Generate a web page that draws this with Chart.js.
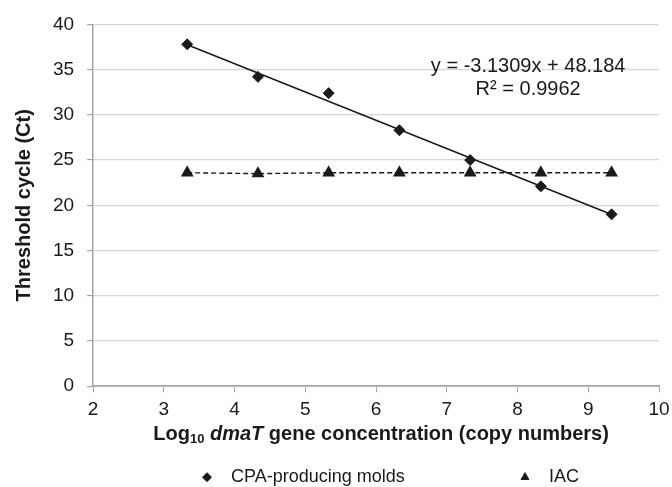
<!DOCTYPE html>
<html>
<head>
<meta charset="utf-8">
<script src="https://cdn.jsdelivr.net/npm/chart.js@4"></script>
<style>
  html, body { margin: 0; padding: 0; background: #fff; }
  #wrap { width: 672px; height: 487px; }
</style>
</head>
<body>
<div id="wrap"><canvas id="chart" width="672" height="487"></canvas></div>
<script>
// valeurs
const logConc = [3.33, 4.33, 5.33, 6.33, 7.33, 8.33, 9.33];
const ctCPA = [37.8, 34.2, 32.4, 28.3, 25.0, 22.1, 19.0];
const ctIAC = [23.6, 23.5, 23.6, 23.6, 23.6, 23.6, 23.6];
const xTicks = [2, 3, 4, 5, 6, 7, 8, 9, 10];
const yTicks = [0, 5, 10, 15, 20, 25, 30, 35, 40];
const slope = -3.1309;
const intercept = 48.184;
const eqLines = ['y = -3.1309x + 48.184', 'R\u00b2 = 0.9962'];
const seriesNames = ['CPA-producing molds', 'IAC'];

const FONT = "'Liberation Sans', Arial, sans-serif";
const INK = '#1a1a1a';
const AXIS = '#a3a3a3';

// droite de tendance entre le premier et le dernier point
const trendX = [logConc[0], logConc[logConc.length - 1]];
const trend = trendX.map(x => ({ x: x, y: slope * x + intercept }));

const toPts = (xs, ys) => xs.map((x, i) => ({ x: x, y: ys[i] }));

// titre de l'axe x avec indice et italique, plus légende et équation
const extras = {
  id: 'extras',
  afterDraw(chart) {
    const ctx = chart.ctx;
    const area = chart.chartArea;
    const xs = chart.scales.x, ys = chart.scales.y;
    ctx.save();
    ctx.fillStyle = INK;
    ctx.textBaseline = 'middle';

    // équation
    ctx.font = '20px ' + FONT;
    ctx.textAlign = 'center';
    const ex = xs.getPixelForValue(8.15);
    ctx.fillText(eqLines[0], ex, ys.getPixelForValue(35.3));
    ctx.fillText(eqLines[1], ex, ys.getPixelForValue(32.8));

    // titre x
    const parts = [
      { t: 'Log', f: 'bold 20px ' + FONT, dy: 0 },
      { t: '10', f: 'bold 13px ' + FONT, dy: 5 },
      { t: ' ', f: 'bold 20px ' + FONT, dy: 0 },
      { t: 'dmaT', f: 'italic bold 20px ' + FONT, dy: 0 },
      { t: ' gene concentration (copy numbers)', f: 'bold 20px ' + FONT, dy: 0 }
    ];
    let total = 0;
    parts.forEach(p => { ctx.font = p.f; p.w = ctx.measureText(p.t).width; total += p.w; });
    let px = (area.left + area.right) / 2 + 5 - total / 2;
    const py = area.bottom + 48;
    ctx.textAlign = 'left';
    parts.forEach(p => { ctx.font = p.f; ctx.fillText(p.t, px, py + p.dy); px += p.w; });

    // légende
    const ly = area.bottom + 91;
    const items = [
      { x: 207, ds: chart.data.datasets[0] },
      { x: 525, ds: chart.data.datasets[1] }
    ];
    ctx.font = '18px ' + FONT;
    items.forEach((it, i) => {
      ctx.fillStyle = INK;
      ctx.strokeStyle = INK;
      Chart.helpers.drawPoint(ctx, {
        pointStyle: it.ds.pointStyle, radius: 4.5, rotation: 0, borderWidth: 1
      }, it.x, ly);
      ctx.fillText(seriesNames[i], it.x + 24, ly);
    });
    ctx.restore();
  }
};

new Chart(document.getElementById('chart'), {
  type: 'scatter',
  data: {
    datasets: [
      {
        label: seriesNames[0],
        data: toPts(logConc, ctCPA),
        pointStyle: 'rectRot',
        pointRadius: 5.5,
        backgroundColor: INK,
        borderColor: INK,
        showLine: false,
        order: 1
      },
      {
        label: seriesNames[1],
        data: toPts(logConc, ctIAC),
        pointStyle: 'triangle',
        pointRadius: 6,
        backgroundColor: INK,
        borderColor: INK,
        showLine: true,
        borderWidth: 1.4,
        borderDash: [5, 3],
        order: 2
      },
      {
        label: 'trend',
        data: trend,
        showLine: true,
        pointRadius: 0,
        borderColor: INK,
        borderWidth: 1.6,
        order: 3
      }
    ]
  },
  options: {
    responsive: false,
    animation: false,
    layout: { padding: { top: 22, right: 13, bottom: 60, left: 12 } },
    plugins: {
      legend: { display: false },
      tooltip: { enabled: false }
    },
    scales: {
      x: {
        type: 'linear',
        min: 2,
        max: 10,
        afterBuildTicks: axis => { axis.ticks = xTicks.map(v => ({ value: v })); },
        // le "10" peut déborder vers le bord droit comme sur l'original
        afterFit: axis => { axis.paddingRight = 0; },
        border: { color: AXIS, width: 1.5 },
        grid: { drawOnChartArea: false, drawTicks: true, tickLength: 6, color: AXIS },
        ticks: { color: INK, font: { family: FONT, size: 19 }, padding: 6 }
      },
      y: {
        min: 0,
        max: 40,
        afterBuildTicks: axis => { axis.ticks = yTicks.map(v => ({ value: v })); },
        border: { color: AXIS, width: 1.5 },
        grid: {
          color: '#d6d6d6',
          lineWidth: 1.2,
          drawTicks: true,
          tickLength: 6,
          tickColor: AXIS
        },
        ticks: { color: INK, font: { family: FONT, size: 19 }, padding: 13 },
        title: {
          display: true,
          text: 'Threshold cycle (Ct)',
          color: INK,
          font: { family: FONT, size: 20, weight: 'bold' },
          padding: { top: 0, bottom: 4 }
        }
      }
    }
  },
  plugins: [extras]
});
</script>
</body>
</html>
